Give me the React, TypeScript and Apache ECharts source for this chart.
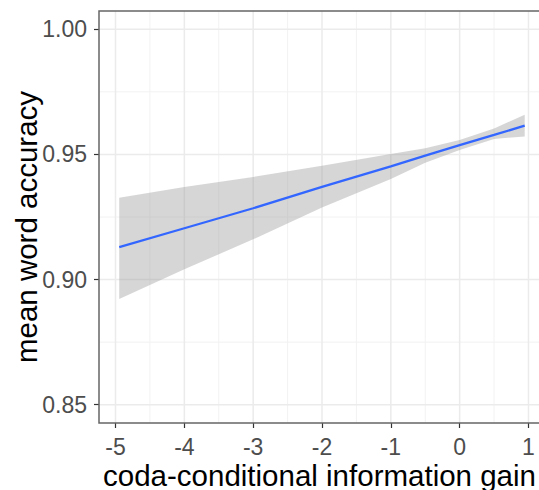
import React, { useEffect, useRef } from "react";
import * as echarts from "echarts";

// Fitted smooth (x, fit, CI bounds)
const xs = [-4.946, -4, -3, -2, -1, -0.5, 0, 0.5, 0.945];
const fit = [0.913, 0.9205, 0.9285, 0.937, 0.9452, 0.9495, 0.9537, 0.9578, 0.9615];
const upper = [0.9327, 0.937, 0.941, 0.9455, 0.9502, 0.9525, 0.9558, 0.9604, 0.9659];
const lower = [0.8922, 0.9041, 0.9161, 0.9288, 0.9402, 0.9467, 0.9518, 0.9562, 0.9572];

// Axis ticks and grid lines
const xTicks = [-5, -4, -3, -2, -1, 0, 1];
const xMinor = [-4.5, -3.5, -2.5, -1.5, -0.5, 0.5];
const yTicks = [0.85, 0.9, 0.95, 1.0];
const yMinor = [0.875, 0.925, 0.975];

const X_MIN = -5.24;
const X_MAX = 1.24;
const Y_MIN = 0.8427;
const Y_MAX = 1.0073;

const FONT = "Liberation Sans, Arial, sans-serif";

export default function App() {
  const ref = useRef<HTMLDivElement>(null);
  useEffect(() => {
    if (!ref.current) return;
    const chart = echarts.init(ref.current, undefined, { renderer: "svg" });

    const gridSeries = (
      vertical: number[],
      horizontal: number[],
      color: string,
      width: number
    ) => ({
      type: "custom",
      silent: true,
      clip: true,
      z: 1,
      data: [
        ...vertical.map((v) => [0, v]),
        ...horizontal.map((v) => [1, v]),
      ],
      renderItem: (params: any, api: any) => {
        const kind = api.value(0);
        const v = api.value(1);
        const p1 = kind === 0 ? api.coord([v, Y_MIN]) : api.coord([X_MIN, v]);
        const p2 = kind === 0 ? api.coord([v, Y_MAX]) : api.coord([X_MAX, v]);
        return {
          type: "line",
          shape: { x1: p1[0], y1: p1[1], x2: p2[0], y2: p2[1] },
          style: { stroke: color, lineWidth: width },
        };
      },
      encode: { x: -1, y: -1 },
    });

    chart.setOption({
      animation: false,
      backgroundColor: "#ffffff",
      grid: {
        left: 99,
        right: 15,
        top: 11,
        bottom: 67,
        containLabel: false,
        outerBoundsMode: "none",
        show: true,
        borderColor: "#666666",
        borderWidth: 1.5,
        backgroundColor: "transparent",
        z: 10,
      },
      xAxis: {
        type: "value",
        min: X_MIN,
        max: X_MAX,
        name: "coda-conditional information gain",
        nameLocation: "middle",
        nameGap: 37,
        nameMoveOverlap: false,
        nameTextStyle: {
          fontFamily: FONT,
          fontSize: 29.5,
          color: "#000000",
          padding: [0, 5, 0, 0],
        },
        axisLine: { show: false, onZero: false },
        splitLine: { show: false },
        axisTick: {
          show: true,
          customValues: xTicks,
          length: 5,
          lineStyle: { color: "#333333", width: 1.2 },
        },
        axisLabel: {
          customValues: xTicks,
          margin: 12,
          fontFamily: FONT,
          fontSize: 23,
          color: "#4d4d4d",
          formatter: (v: number) => String(v),
        },
      },
      yAxis: {
        type: "value",
        min: Y_MIN,
        max: Y_MAX,
        name: "mean word accuracy",
        nameLocation: "middle",
        nameGap: 58,
        nameMoveOverlap: false,
        nameTextStyle: {
          fontFamily: FONT,
          fontSize: 29.5,
          color: "#000000",
          padding: [0, 20, 0, 0],
        },
        axisLine: { show: false, onZero: false },
        splitLine: { show: false },
        axisTick: {
          show: true,
          customValues: yTicks,
          length: 5,
          lineStyle: { color: "#333333", width: 1.2 },
        },
        axisLabel: {
          customValues: yTicks,
          margin: 12,
          fontFamily: FONT,
          fontSize: 23,
          color: "#4d4d4d",
          formatter: (v: number) => v.toFixed(2),
        },
      },
      series: [
        gridSeries(xMinor, yMinor, "#f2f2f2", 1),
        gridSeries(xTicks, yTicks, "#ebebeb", 1.5),
        {
          type: "custom",
          silent: true,
          clip: true,
          z: 2,
          data: [[xs[0], lower[0]]],
          renderItem: (params: any, api: any) => {
            const top = xs.map((x, i) => api.coord([x, upper[i]]));
            const bottom = xs
              .map((x, i) => api.coord([x, lower[i]]))
              .reverse();
            return {
              type: "polygon",
              shape: { points: [...top, ...bottom] },
              style: { fill: "rgba(153,153,153,0.4)", stroke: "none" },
            };
          },
        },
        {
          type: "line",
          symbol: "none",
          silent: true,
          z: 3,
          lineStyle: { color: "#3366ff", width: 2.3 },
          data: xs.map((x, i) => [x, fit[i]]),
        },
      ],
    });
    return () => chart.dispose();
  }, []);
  return (
    <div
      style={{
        position: "fixed",
        left: 0,
        top: 0,
        width: 539,
        height: 490,
        overflow: "hidden",
        background: "#ffffff",
      }}
    >
      <div ref={ref} style={{ width: 560, height: 490 }} />
    </div>
  );
}
